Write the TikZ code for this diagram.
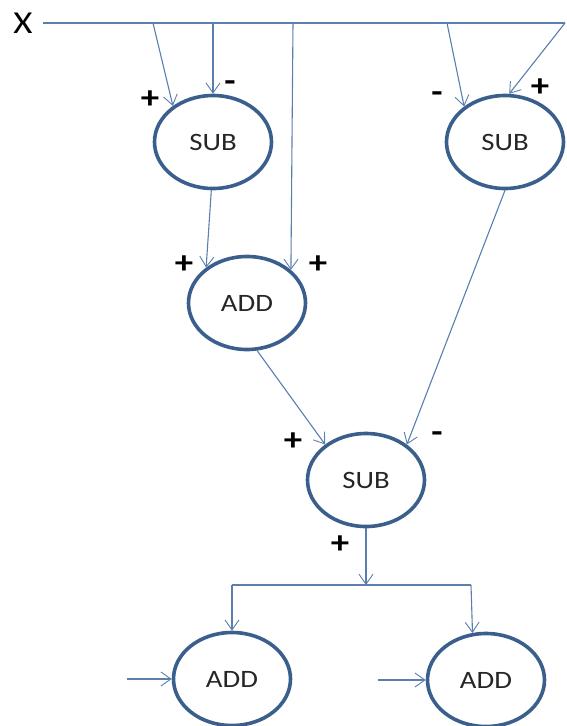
\documentclass[tikz,border=0pt]{standalone}
\usepackage{fontspec}
\setmainfont[FakeStretch=1.15]{Carlito}
\usetikzlibrary{shapes.geometric,arrows.meta}
\definecolor{wirec}{RGB}{90,127,174}
\definecolor{rimc}{RGB}{58,95,140}
\begin{document}
\begin{tikzpicture}[x=1pt, y=-1pt,
  op/.style={ellipse, draw=rimc, line width=3.6pt, minimum width=117pt, minimum height=93pt, inner sep=0pt, text=black!85, font=\fontsize{25}{30}\selectfont},
  plain/.style={draw=wirec, line width=1.1pt},
  link/.style={plain, -{Straight Barb[length=10pt, width=14pt, line width=0.9pt]}},
  sgn/.style={inner sep=0pt, font=\fontsize{32}{36}\selectfont\bfseries}]
\useasboundingbox (0,0) rectangle (567,726);
\node[font=\fontsize{32}{36}\selectfont] (x) at (23,23) {X};
\coordinate (t1) at (153,23);
\coordinate (t2) at (213,23);
\coordinate (t3) at (293,23);
\coordinate (t4) at (447,23);
\coordinate (xend) at (565,23);
\node[op] (sub1) at (213,142) {SUB};
\node[op] (sub2) at (505,142) {SUB};
\node[op] (add1) at (247,303) {ADD};
\node[op] (sub3) at (366,480) {SUB};
\node[op] (add2) at (232,679) {ADD};
\node[op] (add3) at (486,680) {ADD};
\coordinate (split) at (366,585);
\coordinate (lb) at (232,585);
\coordinate (rb) at (471,585);
\coordinate (in2) at (127,679);
\coordinate (in3) at (378,680);
\draw[plain, shorten <=7pt] (x.east) -- (xend);
\draw[link] (t1) -- (sub1.138);
\draw[link] (t2) -- (sub1.north);
\draw[link] (t3) -- (add1.37);
\draw[link] (sub1.268) -- (add1.139);
\draw[link] (t4) -- (sub2.139);
\draw[link] (xend) -- (sub2.85);
\draw[link] (add1.282) -- (sub3.139);
\draw[link] (sub2.south) -- (sub3.41);
\draw[link] (sub3.south) -- (split);
\draw[plain] (lb) -- (rb);
\draw[link] (lb) -- (add2.north);
\draw[link] (rb) -- (add3.106);
\draw[link] (in2) -- (add2.west);
\draw[link] (in3) -- (add3.west);
\node[sgn] (s1p) at (150,100) {+};
\node[sgn] (s1m) at (230,86) {-};
\node[sgn] (s2m) at (437,97) {-};
\node[sgn] (s2p) at (540,88) {+};
\node[sgn] (a1l) at (184,265) {+};
\node[sgn] (a1r) at (318,265) {+};
\node[sgn] (s3p) at (293,442) {+};
\node[sgn] (s3m) at (437,437) {-};
\node[sgn] (s3o) at (340,545) {+};
\end{tikzpicture}
\end{document}
